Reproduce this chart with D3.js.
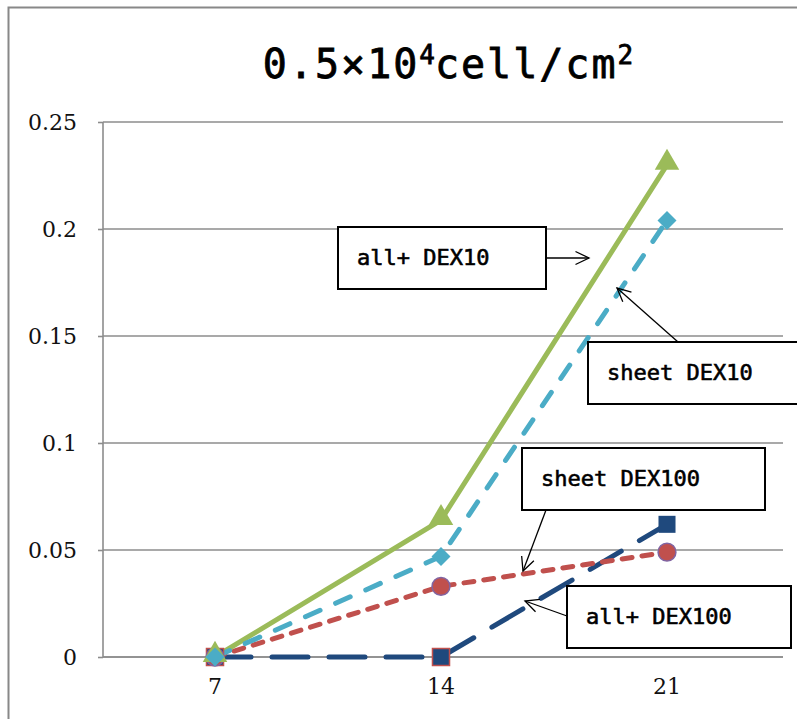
<!DOCTYPE html>
<html>
<head>
<meta charset="utf-8">
<script src="https://cdn.jsdelivr.net/npm/d3@7"></script>
<style>
  body { margin: 0; background: #fff; }
  svg { display: block; }
</style>
</head>
<body>
<div id="chart"></div>
<script>
// categories (day) and series values
var days = ['7', '14', '21']
var allDex10 = [0, 0.064, 0.230]
var sheetDex10 = [0, 0.047, 0.204]
var sheetDex100 = [0, 0.033, 0.049]
var allDex100 = [0, 0, 0.062]
var yTicks = [0, 0.05, 0.1, 0.15, 0.2, 0.25]

var width = 797
var height = 719

var svg = d3
  .select('#chart')
  .append('svg')
  .attr('width', width)
  .attr('height', height)

// outer chart frame
svg
  .append('rect')
  .attr('x', 8.5)
  .attr('y', 7.5)
  .attr('width', 800)
  .attr('height', 800)
  .attr('fill', 'none')
  .attr('stroke', '#888')
  .attr('stroke-width', 2)

var xPositionScale = d3
  .scaleBand()
  .domain(days)
  .range([102, 780])

var yPositionScale = d3
  .scaleLinear()
  .domain([0, 0.25])
  .range([657, 122])

// gridlines
svg
  .selectAll('.grid')
  .data(yTicks)
  .enter()
  .append('line')
  .attr('x1', 103)
  .attr('x2', 783)
  .attr('y1', d => yPositionScale(d))
  .attr('y2', d => yPositionScale(d))
  .attr('stroke', '#8c8c8c')
  .attr('stroke-width', 1.6)

var yAxis = d3
  .axisLeft(yPositionScale)
  .tickValues(yTicks)
  .tickSize(5)
  .tickPadding(21)
  .tickFormat(d => String(+d.toFixed(2)))
svg
  .append('g')
  .attr('class', 'axis y-axis')
  .attr('transform', 'translate(103,0)')
  .call(yAxis)

svg.selectAll('.y-axis path, .y-axis line').attr('stroke', '#8c8c8c').attr('stroke-width', 1.6)
svg.select('.y-axis .domain').attr('d', 'M0,' + yPositionScale(0.25) + 'V' + yPositionScale(0))
svg
  .selectAll('.y-axis text')
  .attr('font-family', '"DejaVu Serif", serif')
  .attr('font-size', 22)
  .attr('fill', '#111')

var xAxis = d3.axisBottom(xPositionScale).tickSize(0).tickPadding(21)
svg
  .append('g')
  .attr('class', 'axis x-axis')
  .attr('transform', 'translate(0,657)')
  .call(xAxis)
svg.select('.x-axis .domain').attr('d', 'M103,0H783').attr('stroke', '#8c8c8c').attr('stroke-width', 1.6)
svg
  .selectAll('.x-axis text')
  .attr('font-family', '"DejaVu Serif", serif')
  .attr('font-size', 22)
  .attr('fill', '#111')

// title
var title = svg
  .append('text')
  .attr('x', 448)
  .attr('y', 78)
  .attr('text-anchor', 'middle')
  .attr('font-family', '"DejaVu Sans Mono", monospace')
  .attr('font-size', 40)
  .attr('letter-spacing', 2)
  .attr('fill', '#000')
  .attr('stroke', '#000')
  .attr('stroke-width', 0.8)
title.append('tspan').text('0.5×10')
title.append('tspan').attr('font-size', 26).attr('dy', -14).attr('letter-spacing', 0).text('4')
title.append('tspan').attr('dy', 14).text('cell/cm')
title.append('tspan').attr('font-size', 26).attr('dy', -14).attr('letter-spacing', 0).text('2')

var series = [
  { name: 'all+ DEX100', values: allDex100, color: '#1f497d', dash: '36,21', marker: 'square' },
  { name: 'sheet DEX100', values: sheetDex100, color: '#c0504d', dash: '10,10', marker: 'circle' },
  { name: 'all+ DEX10', values: allDex10, color: '#9bbb59', dash: null, marker: 'triangle' },
  { name: 'sheet DEX10', values: sheetDex10, color: '#4bacc6', dash: '16,17', marker: 'diamond' }
]

var line = d3
  .line()
  .x((d, i) => xPositionScale(days[i]) + xPositionScale.bandwidth() / 2)
  .y(d => yPositionScale(d))

series.forEach(s => {
  svg
    .append('path')
    .datum(s.values)
    .attr('d', line)
    .attr('fill', 'none')
    .attr('stroke', s.color)
    .attr('stroke-width', 5)
    .attr('stroke-linecap', 'round')
    .attr('stroke-dasharray', s.dash)
})

var symbolType = {
  square: d3.symbolSquare,
  circle: d3.symbolCircle,
  triangle: d3.symbolTriangle,
  diamond: d3.symbolSquare
}
var symbolSize = { square: 290, circle: 250, triangle: 260, diamond: 180 }

series.forEach(s => {
  svg
    .selectAll('.m-' + s.marker)
    .data(s.values)
    .enter()
    .append('path')
    .attr('class', 'm-' + s.marker)
    .attr('d', d3.symbol().type(symbolType[s.marker]).size(symbolSize[s.marker]))
    .attr('transform', (d, i) => {
      var x = xPositionScale(days[i]) + xPositionScale.bandwidth() / 2
      var y = yPositionScale(d)
      if (s.marker === 'triangle') y -= 2
      return 'translate(' + x + ',' + y + ')' + (s.marker === 'diamond' ? ' rotate(45)' : '')
    })
    .attr('fill', s.color)
    .attr('stroke', (d, i) => {
      if (s.marker === 'circle') return '#8064a2'
      if (s.marker === 'square' && i < 2) return '#c0504d'
      return 'none'
    })
    .attr('stroke-width', 1.5)
})

// callout labels
var labels = [
  { text: 'all+ DEX10', x: 338, y: 227, w: 208, from: [546, 258], to: [589, 258] },
  { text: 'sheet DEX10', x: 588, y: 342, w: 215, from: [678, 342], to: [617, 288] },
  { text: 'sheet DEX100', x: 522, y: 448, w: 243, from: [546, 510], to: [523, 571] },
  { text: 'all+ DEX100', x: 567, y: 586, w: 224, from: [567, 616], to: [525, 601] }
]

var callouts = svg
  .selectAll('.callout')
  .data(labels)
  .enter()
  .append('g')
  .attr('class', 'callout')

callouts
  .append('line')
  .attr('x1', d => d.from[0])
  .attr('y1', d => d.from[1])
  .attr('x2', d => d.to[0])
  .attr('y2', d => d.to[1])
  .attr('stroke', '#000')
  .attr('stroke-width', 1.3)

callouts
  .append('path')
  .attr('d', d => {
    var ang = Math.atan2(d.to[1] - d.from[1], d.to[0] - d.from[0])
    var len = 15
    var spread = 0.45
    var a1 = [d.to[0] - len * Math.cos(ang - spread), d.to[1] - len * Math.sin(ang - spread)]
    var a2 = [d.to[0] - len * Math.cos(ang + spread), d.to[1] - len * Math.sin(ang + spread)]
    return 'M' + a1 + 'L' + d.to + 'L' + a2
  })
  .attr('fill', 'none')
  .attr('stroke', '#000')
  .attr('stroke-width', 1.3)

callouts
  .append('rect')
  .attr('x', d => d.x)
  .attr('y', d => d.y)
  .attr('width', d => d.w)
  .attr('height', 62)
  .attr('fill', '#fff')
  .attr('stroke', '#000')
  .attr('stroke-width', 2)

callouts
  .append('text')
  .attr('x', d => d.x + 19)
  .attr('y', d => d.y + 38)
  .attr('font-family', '"DejaVu Sans Mono", monospace')
  .attr('font-size', 22)
  .attr('fill', '#000')
  .attr('stroke', '#000')
  .attr('stroke-width', 0.6)
  .text(d => d.text)
</script>
</body>
</html>
